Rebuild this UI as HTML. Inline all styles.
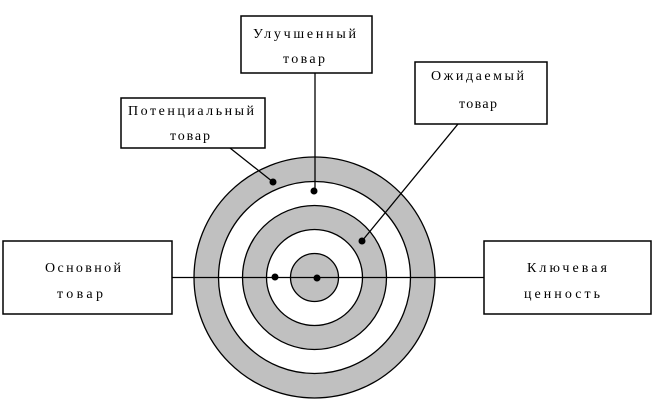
<!DOCTYPE html>
<html><head><meta charset="utf-8"><style>body{margin:0;background:#fff}svg{display:block}</style></head>
<body>
<svg width="652" height="400" viewBox="0 0 652 400" xmlns="http://www.w3.org/2000/svg">
<g stroke="#000" stroke-width="1.3">
<circle cx="314.5" cy="277.5" r="120.5" fill="#c0c0c0"/>
<circle cx="314.5" cy="277.5" r="96" fill="#fff"/>
<circle cx="314.5" cy="277.5" r="72" fill="#c0c0c0"/>
<circle cx="314.5" cy="277.5" r="48" fill="#fff"/>
<circle cx="314.5" cy="277.5" r="24" fill="#c0c0c0"/>
<line x1="172" y1="277.5" x2="484" y2="277.5"/>
<line x1="315" y1="73" x2="315" y2="190"/>
<line x1="230" y1="148" x2="273" y2="182"/>
<line x1="458" y1="124" x2="362" y2="241"/>
<g fill="#fff" stroke-width="1.5">
<rect x="241" y="16" width="131" height="57"/>
<rect x="415" y="62" width="132" height="62"/>
<rect x="121" y="98" width="144" height="50"/>
<rect x="3" y="241" width="169" height="73"/>
<rect x="484" y="241" width="167" height="73"/>
</g>
</g>
<g fill="#000">
<circle cx="317" cy="278" r="3.5"/><circle cx="275" cy="277" r="3.5"/>
<circle cx="362" cy="241" r="3.5"/><circle cx="314" cy="191" r="3.5"/>
<circle cx="273" cy="182" r="3.5"/>
</g>
<g font-family="Liberation Serif, serif" font-size="14" fill="#000" lengthAdjust="spacing">
<text x="253" y="38" textLength="103" lengthAdjust="spacing">Улучшенный</text>
<text x="283" y="63" textLength="42" lengthAdjust="spacing">товар</text>
<text x="128" y="115" textLength="126" lengthAdjust="spacing">Потенциальный</text>
<text x="170" y="140" textLength="40" lengthAdjust="spacing">товар</text>
<text x="431" y="80" textLength="93" lengthAdjust="spacing">Ожидаемый</text>
<text x="459" y="108" textLength="38" lengthAdjust="spacing">товар</text>
<text x="45" y="272" textLength="76" lengthAdjust="spacing">Основной</text>
<text x="57" y="298" textLength="46" lengthAdjust="spacing">товар</text>
<text x="527" y="272" textLength="80" lengthAdjust="spacing">Ключевая</text>
<text x="524" y="298" textLength="76" lengthAdjust="spacing">ценность</text>
</g>
</svg>
</body></html>
